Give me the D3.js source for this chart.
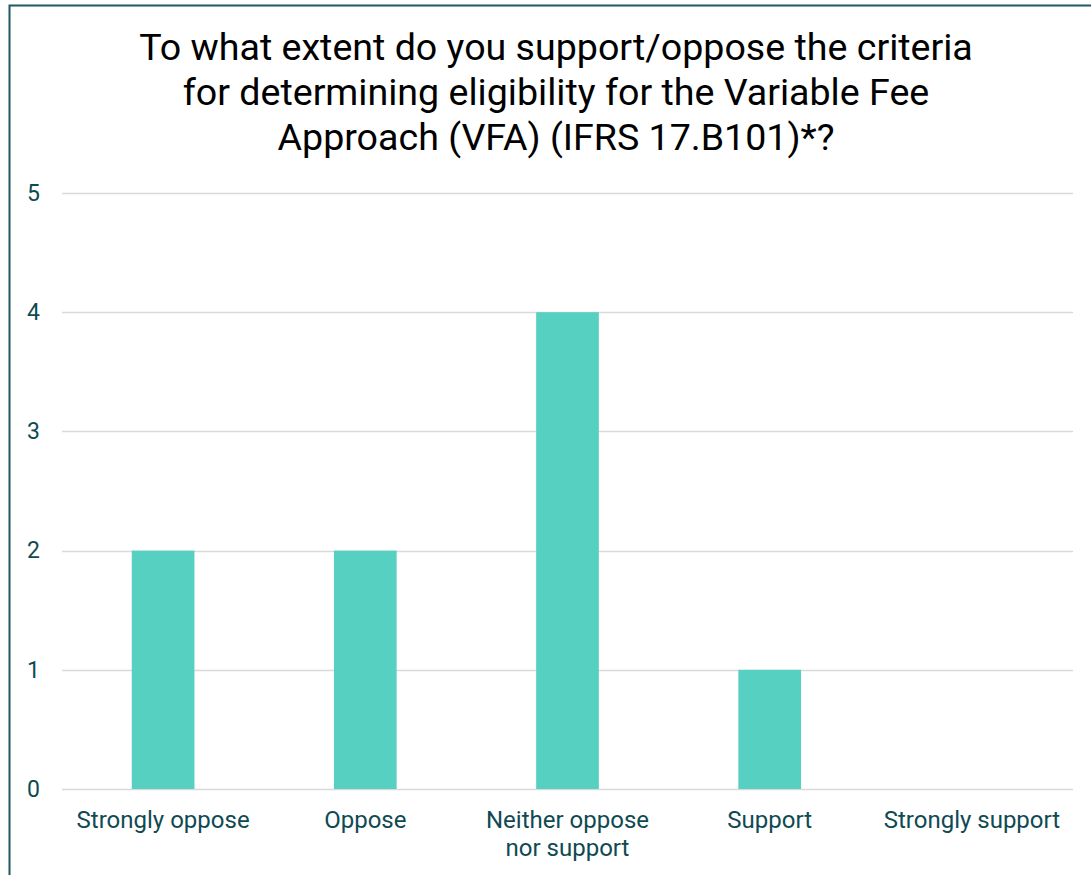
<!DOCTYPE html>
<html>
<head>
<meta charset="utf-8">
<script src="https://cdn.jsdelivr.net/npm/d3@7"></script>
<style>
  html, body { margin: 0; padding: 0; background: #ffffff; }
  svg { display: block; }
</style>
</head>
<body>
<script>
// Survey responses: number of respondents per answer
const categories = ["Strongly oppose", "Oppose", "Neither oppose nor support", "Support", "Strongly support"];
const categoryLines = [["Strongly oppose"], ["Oppose"], ["Neither oppose", "nor support"], ["Support"], ["Strongly support"]];
const counts = [2, 2, 4, 1, 0];
const yTicks = [0, 1, 2, 3, 4, 5];
const titleLines = [
  "To what extent do you support/oppose the criteria",
  "for determining eligibility for the Variable Fee",
  "Approach (VFA) (IFRS 17.B101)*?"
];

const W = 1091, H = 875;
const plot = { left: 62, right: 1073, top: 193, bottom: 789 };
const axisColor = "#0f4a53";

const svg = d3.select("body").append("svg")
  .attr("width", W).attr("height", H);

// Card frame
svg.append("rect")
  .attr("x", 9.5).attr("y", 5.5)
  .attr("width", W + 20).attr("height", H + 20)
  .attr("fill", "#ffffff")
  .attr("stroke", "#1f5a63").attr("stroke-width", 2);

// Title
const title = svg.append("text")
  .attr("text-anchor", "middle")
  .attr("font-family", "Roboto, sans-serif")
  .attr("font-size", 37.6)
  .attr("fill", "#000000");
titleLines.forEach((line, i) => {
  title.append("tspan").attr("x", 556).attr("y", 60 + i * 45).text(line);
});

const x = d3.scaleBand()
  .domain(categories)
  .range([plot.left, plot.right])
  .paddingInner(0.69)
  .paddingOuter(0.345);

const y = d3.scaleLinear()
  .domain([0, 5])
  .range([plot.bottom, plot.top]);

// Gridlines
svg.append("g")
  .selectAll("line")
  .data(yTicks)
  .join("line")
  .attr("x1", plot.left).attr("x2", plot.right)
  .attr("y1", d => Math.round(y(d)) + 0.5).attr("y2", d => Math.round(y(d)) + 0.5)
  .attr("stroke", "#d9d9d9").attr("stroke-width", 1.5);

// Y axis labels
const yAxis = d3.axisLeft(y).tickValues(yTicks).tickSize(0).tickPadding(0).tickFormat(d3.format("d"));
const yg = svg.append("g")
  .attr("transform", `translate(40,0)`)
  .call(yAxis);
yg.select(".domain").remove();
yg.selectAll("text")
  .attr("font-family", "Roboto, sans-serif")
  .attr("font-size", 23)
  .attr("fill", axisColor);

// Bars
svg.append("g")
  .selectAll("rect")
  .data(categories.map((c, i) => ({ c, v: counts[i] })))
  .join("rect")
  .attr("x", d => x(d.c))
  .attr("width", x.bandwidth())
  .attr("y", d => y(d.v))
  .attr("height", d => y(0) - y(d.v))
  .attr("fill", "#56d0c1");

// X axis labels
const xAxis = d3.axisBottom(x).tickSize(0).tickPadding(0).tickFormat(() => "");
const xg = svg.append("g")
  .attr("transform", `translate(0,${plot.bottom})`)
  .call(xAxis);
xg.select(".domain").remove();
xg.selectAll(".tick text").each(function (d, i) {
  const t = d3.select(this)
    .attr("y", 0).attr("dy", null)
    .attr("font-family", "Roboto, sans-serif")
    .attr("font-size", 24)
    .attr("fill", axisColor);
  categoryLines[i].forEach((line, j) => {
    t.append("tspan").attr("x", 0).attr("y", 39 + j * 27.5).text(line);
  });
});
</script>
</body>
</html>
